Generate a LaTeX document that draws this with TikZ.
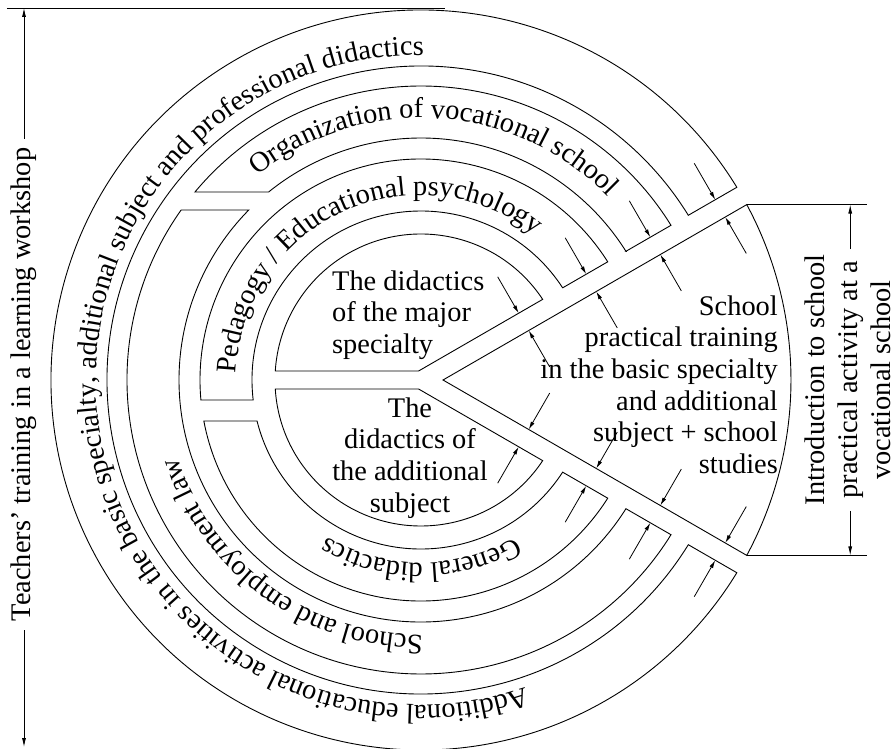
\documentclass[tikz,border=0pt]{standalone}
\usepackage{fontspec}
\setmainfont{Liberation Serif}
\usetikzlibrary{arrows.meta,decorations.text,calc}
\newcommand\bigf{\fontsize{28.5}{31.7}\selectfont}
\begin{document}
\begin{tikzpicture}[x=1bp,y=1bp,
  ring/.style={draw, line width=0.9bp, line join=miter},
  ptr/.style={draw, line width=0.8bp, -{Latex[length=8bp,width=4bp]}},
  dim/.style={draw, line width=0.8bp},
  dimarrow/.style={dim, -{Latex[length=9bp,width=4bp]}},
  lbl/.style={font=\bigf, inner sep=0pt}]
\useasboundingbox (-421,-369) rectangle (474,380);

% outer band
\draw[ring] (31.64:314) -- (31.39:370) arc[start angle=31.39, end angle=328.61, radius=370bp]
  -- (328.36:314) arc[start angle=328.36, end angle=31.64, radius=314bp] -- cycle;
% organization of vocational school
\draw[ring] (32.13:242) -- (31.75:294) arc[start angle=31.75, end angle=140.25, radius=294bp]
  -- (129.02:242) arc[start angle=129.02, end angle=32.13, radius=242bp] -- cycle;
% school and employment law
\draw[ring] (144.67:294) arc[start angle=144.67, end angle=328.25, radius=294bp]
  -- (327.87:242) arc[start angle=327.87, end angle=135.37, radius=242bp] -- cycle;
% pedagogy
\draw[ring] (33.05:169) -- (32.33:221) arc[start angle=32.33, end angle=185.19, radius=221bp]
  -- (186.80:169) arc[start angle=186.80, end angle=33.05, radius=169bp] -- cycle;
% general didactics
\draw[ring] (190.69:221) arc[start angle=190.69, end angle=327.67, radius=221bp]
  -- (326.95:169) arc[start angle=326.95, end angle=194.04, radius=169bp] -- cycle;
% inner half discs
\draw[ring] (-2.41,9) -- (33.53:146) arc[start angle=33.53, end angle=176.47, radius=146bp] -- cycle;
\draw[ring] (-2.41,-9) -- (183.53:146) arc[start angle=183.53, end angle=326.47, radius=146bp] -- cycle;
% sector
\coordinate (apex) at (22,0);
\coordinate (sT) at (28.30:370);
\coordinate (sB) at (-28.30:370);
\draw[ring] (apex) -- (sT) arc[start angle=28.30, end angle=-28.30, radius=370bp] -- cycle;

% pointer arrows
\foreach \s/\i in {118/1,196/2,270/3,345/4} {
  \coordinate (ut\i) at ($(30:\s)+(120:9)$);
  \coordinate (uh\i) at ($(30:\s)+(120:51)$);
  \coordinate (vt\i) at ($(30:\s)+(300:11)$);
  \coordinate (vh\i) at ($(30:\s)+(300:53)$);
  \coordinate (lt\i) at ($(-30:\s)+(-120:9)$);
  \coordinate (lh\i) at ($(-30:\s)+(-120:51)$);
  \coordinate (wt\i) at ($(-30:\s)+(60:11)$);
  \coordinate (wh\i) at ($(-30:\s)+(60:53)$);
  \draw[ptr] (uh\i) -- (ut\i);
  \draw[ptr] (vh\i) -- (vt\i);
  \draw[ptr] (lh\i) -- (lt\i);
  \draw[ptr] (wh\i) -- (wt\i);
}

% curved texts
\path[decorate, decoration={text along path, text align=center,
  text={|\bigf|Additional educational activities in the basic specialty, additional subject and professional didactics}}]
  (319.15:325) arc[start angle=319.15, end angle=59.15, radius=325bp];
\path[decorate, decoration={text along path, text align=center,
  text={|\bigf|Organization of vocational school}}]
  (156.5:262) arc[start angle=156.5, end angle=16.5, radius=262bp];
\path[decorate, decoration={text along path, text align=center,
  text={|\bigf|Pedagogy / Educational psychology}}]
  (195:185) arc[start angle=195, end angle=35, radius=185bp];
\path[decorate, decoration={text along path, text align=center,
  text={|\bigf|General didactics}}]
  (-10:183) arc[start angle=-10, end angle=-170, radius=183bp];
\path[decorate, decoration={text along path, text align=center,
  text={|\bigf|School and employment law}}]
  (-46:255) arc[start angle=-46, end angle=-206, radius=255bp];

% straight texts
\node[lbl, anchor=north west, align=left] (tmaj) at (-89,109.5) {The didactics\\of the major\\specialty};
\node[lbl, anchor=north, align=center] (tadd) at (-11,-17.5) {The\\didactics of\\the additional\\subject};
\node[lbl, anchor=north east, align=right] (tsch) at (357,84.5) {School\\practical training\\in the basic specialty\\and additional\\subject + school\\studies};

% right dimension
\draw[dim] (sT) -- ++(120.3,0) coordinate (eT);
\draw[dim] (sB) -- ++(120.3,0) coordinate (eB);
\node[lbl, rotate=90, anchor=base] (r1) at (403,0) {Introduction to school};
\node[lbl, rotate=90, anchor=base, inner xsep=12bp] (r2) at (436,0) {practical activity at a};
\node[lbl, rotate=90, anchor=base] (r3) at (469,0) {vocational school};
\draw[dimarrow] (r2.east) -- (r2.east |- eT);
\draw[dimarrow] (r2.west) -- (r2.west |- eB);

% left dimension
\draw[dim] (-414,372) coordinate (tl) -- (24,372) coordinate (tr);
\coordinate (bl) at (-398,-367);
\node[lbl, rotate=90, inner xsep=9bp] (lt) at (-397,-4.5) {Teachers’ training in a learning workshop};
\draw[dimarrow] (lt.east) -- (lt.east |- tl);
\draw[dimarrow] (lt.west) -- (lt.west |- bl);
\end{tikzpicture}
\end{document}
